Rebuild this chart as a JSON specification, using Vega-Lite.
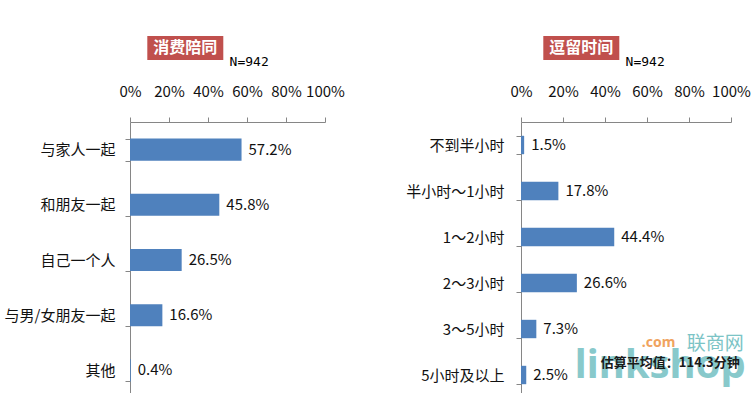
{
  "$schema": "https://vega.github.io/schema/vega-lite/v6.json",
  "background": "white",
  "padding": {"left": 4, "top": 36, "right": 0, "bottom": 0},
  "config": {
    "view": {"stroke": null},
    "font": "Noto Sans CJK SC",
    "axis": {
      "domainColor": "#868686",
      "tickColor": "#868686",
      "labelColor": "#111111",
      "labelFont": "Noto Sans CJK SC",
      "labelFontSize": 15,
      "labelOverlap": false,
      "labelFlush": false,
      "grid": false,
      "title": null,
      "tickSize": 5
    }
  },
  "spacing": 60,
  "hconcat": [
    {
      "spacing": 8,
      "vconcat": [
        {
          "spacing": 5.3,
          "hconcat": [
            {"width": 11.4, "height": 24, "data": {"values": []}, "mark": "rect"},
            {
              "width": 76, "height": 24,
              "view": {"fill": "#C0504D", "stroke": null},
              "data": {"values": [{"t": "消费陪同"}]},
              "mark": {"type": "text", "color": "white", "fontWeight": "bold", "fontSize": 16},
              "encoding": {"text": {"field": "t"}}
            },
            {
              "width": 2, "height": 40,
              "data": {"values": [{"t": "N=942"}]},
              "mark": {"type": "text", "align": "left", "baseline": "top", "font": "DejaVu Sans Mono", "fontSize": 13, "color": "#000000"},
              "encoding": {"text": {"field": "t"}}
            }
          ]
        },
        {
          "width": 195, "height": 276,
          "data": {"values": [
            {"cat": "与家人一起", "pct": 0.572},
            {"cat": "和朋友一起", "pct": 0.458},
            {"cat": "自己一个人", "pct": 0.265},
            {"cat": "与男/女朋友一起", "pct": 0.166},
            {"cat": "其他", "pct": 0.004}
          ]},
          "layer": [
            {"mark": {"type": "bar", "color": "#4F81BD"},
             "encoding": {
               "y": {"field": "cat", "type": "nominal", "sort": null,
                     "scale": {"domain": ["与家人一起", "和朋友一起", "自己一个人", "与男/女朋友一起", "其他"], "paddingInner": 0.6, "paddingOuter": 0.3},
                     "axis": {"tickBand": "extent", "labelPadding": 10}},
               "x": {"field": "pct", "type": "quantitative", "scale": {"domain": [0, 1]},
                     "axis": {"orient": "top", "values": [0, 0.2, 0.4, 0.6, 0.8, 1], "format": ".0%", "labelPadding": 18, "labelOverlap": false, "labelFlush": false}}
             }},
            {"mark": {"type": "text", "align": "left", "dx": 7, "fontSize": 15, "color": "#111111"},
             "encoding": {
               "y": {"field": "cat", "type": "nominal", "sort": null,
                     "axis": {"tickBand": "extent", "labelPadding": 10}},
               "x": {"field": "pct", "type": "quantitative",
                     "axis": {"orient": "top", "values": [0, 0.2, 0.4, 0.6, 0.8, 1], "format": ".0%", "labelPadding": 18, "labelOverlap": false, "labelFlush": false}},
               "text": {"field": "pct", "format": ".1%"}
             }}
          ]
        }
      ]
    },
    {
      "spacing": 8,
      "vconcat": [
        {
          "spacing": 5.3,
          "hconcat": [
            {"width": 16.4, "height": 24, "data": {"values": []}, "mark": "rect"},
            {
              "width": 76, "height": 24,
              "view": {"fill": "#C0504D", "stroke": null},
              "data": {"values": [{"t": "逗留时间"}]},
              "mark": {"type": "text", "color": "white", "fontWeight": "bold", "fontSize": 16},
              "encoding": {"text": {"field": "t"}}
            },
            {
              "width": 2, "height": 40,
              "data": {"values": [{"t": "N=942"}]},
              "mark": {"type": "text", "align": "left", "baseline": "top", "font": "DejaVu Sans Mono", "fontSize": 13, "color": "#000000"},
              "encoding": {"text": {"field": "t"}}
            }
          ]
        },
        {
          "width": 210, "height": 276,
          "data": {"values": [
            {"cat": "不到半小时", "pct": 0.015},
            {"cat": "半小时～1小时", "pct": 0.178},
            {"cat": "1～2小时", "pct": 0.444},
            {"cat": "2～3小时", "pct": 0.266},
            {"cat": "3～5小时", "pct": 0.073},
            {"cat": "5小时及以上", "pct": 0.025}
          ]},
          "layer": [
            {"mark": {"type": "bar", "color": "#4F81BD"},
             "encoding": {
               "y": {"field": "cat", "type": "nominal", "sort": null,
                     "scale": {"domain": ["不到半小时", "半小时～1小时", "1～2小时", "2～3小时", "3～5小时", "5小时及以上"], "paddingInner": 0.6, "paddingOuter": 0.3},
                     "axis": {"tickBand": "extent", "labelPadding": 12}},
               "x": {"field": "pct", "type": "quantitative", "scale": {"domain": [0, 1]},
                     "axis": {"orient": "top", "values": [0, 0.2, 0.4, 0.6, 0.8, 1], "format": ".0%", "labelPadding": 18, "labelOverlap": false, "labelFlush": false}}
             }},
            {"mark": {"type": "text", "align": "left", "dx": 7, "fontSize": 15, "color": "#111111"},
             "encoding": {
               "y": {"field": "cat", "type": "nominal", "sort": null,
                     "axis": {"tickBand": "extent", "labelPadding": 12}},
               "x": {"field": "pct", "type": "quantitative",
                     "axis": {"orient": "top", "values": [0, 0.2, 0.4, 0.6, 0.8, 1], "format": ".0%", "labelPadding": 18, "labelOverlap": false, "labelFlush": false}},
               "text": {"field": "pct", "format": ".1%"}
             }},
            {"data": {"values": [{"w": "linkshop"}]},
             "mark": {"type": "text", "align": "left", "baseline": "alphabetic", "dy": 3, "fontSize": 40, "fontWeight": "bold", "font": "Noto Sans", "color": "#7CC4C6", "opacity": 0.9},
             "encoding": {"x": {"datum": 0.256, "type": "quantitative"}, "y": {"datum": "5小时及以上", "type": "nominal"}, "text": {"field": "w"}}},
            {"data": {"values": [{"w": "联商网"}]},
             "mark": {"type": "text", "align": "left", "baseline": "middle", "dy": -31, "fontSize": 19, "color": "#7CC4C6"},
             "encoding": {"x": {"datum": 0.789, "type": "quantitative"}, "y": {"datum": "5小时及以上", "type": "nominal"}, "text": {"field": "w"}}},
            {"data": {"values": [{"w": ".com"}]},
             "mark": {"type": "text", "align": "left", "baseline": "middle", "dy": -32, "fontSize": 14, "fontWeight": "bold", "font": "Noto Sans", "color": "#F0A35E"},
             "encoding": {"x": {"datum": 0.575, "type": "quantitative"}, "y": {"datum": "5小时及以上", "type": "nominal"}, "text": {"field": "w"}}},
            {"data": {"values": [{"note": "估算平均值：114.3分钟"}]},
             "mark": {"type": "text", "align": "left", "baseline": "middle", "dy": -12, "fontSize": 13, "fontWeight": "bold", "color": "#1a1a1a"},
             "encoding": {"x": {"datum": 0.38, "type": "quantitative"}, "y": {"datum": "5小时及以上", "type": "nominal"}, "text": {"field": "note"}}}
          ]
        }
      ]
    }
  ]
}
